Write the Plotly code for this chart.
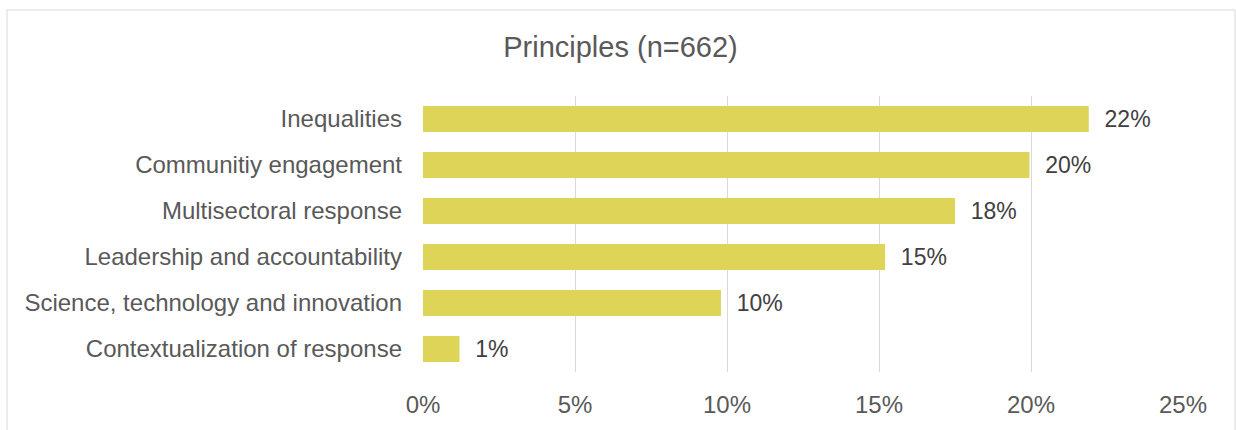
import plotly.graph_objects as go

# Share of responses mentioning each principle (n=662)
categories = [
    "Contextualization of response",
    "Science, technology and innovation",
    "Leadership and accountability",
    "Multisectoral response",
    "Communitiy engagement",
    "Inequalities",
]
shares = [0.012, 0.098, 0.152, 0.175, 0.1995, 0.219]
x_ticks = [0, 0.05, 0.10, 0.15, 0.20, 0.25]
x_tick_labels = ["0%", "5%", "10%", "15%", "20%", "25%"]
chart_title = "Principles (n=662)"

W, H = 1236, 430
ML, MR, MT, MB = 423, 53, 96, 55
plot_w = W - ML - MR
plot_h = H - MT - MB

FONT = "Arial, Liberation Sans, sans-serif"
BAR_COLOR = "#DDD458"
GRID = "#D9D9D9"

fig = go.Figure(
    go.Bar(
        x=shares,
        y=categories,
        orientation="h",
        marker=dict(color=BAR_COLOR, line=dict(width=0)),
        width=0.56,
        text=shares,
        texttemplate="\u00a0\u00a0%{x:.0%}",
        textposition="outside",
        textfont=dict(family=FONT, size=25, color="#404040"),
        cliponaxis=False,
        hoverinfo="skip",
    )
)

# light frame around the whole chart area (open at the bottom)
def px_to_paper_x(px):
    return (px - ML) / plot_w

def px_to_paper_y(py):
    return (H - MB - py) / plot_h

fig.add_shape(
    type="rect",
    xref="paper", yref="paper",
    x0=px_to_paper_x(7), x1=px_to_paper_x(1235),
    y0=px_to_paper_y(445), y1=px_to_paper_y(9),
    line=dict(color=GRID, width=1),
    fillcolor="rgba(0,0,0,0)",
    layer="below",
)

fig.update_layout(
    width=W, height=H,
    margin=dict(l=ML, r=MR, t=MT, b=MB),
    paper_bgcolor="white",
    plot_bgcolor="white",
    showlegend=False,
    title=dict(
        text=chart_title,
        x=620.5 / W, xref="container", xanchor="center",
        y=1 - 47 / H, yref="container", yanchor="middle",
        font=dict(family=FONT, size=29, color="#595959"),
    ),
    xaxis=dict(
        range=[0, 0.25],
        tickvals=x_ticks,
        ticktext=x_tick_labels,
        showgrid=True,
        gridcolor=GRID,
        gridwidth=1,
        zeroline=False,
        showline=False,
        ticks="",
        ticklabelstandoff=16,
        tickfont=dict(family=FONT, size=24, color="#595959"),
        fixedrange=True,
    ),
    yaxis=dict(
        showgrid=False,
        zeroline=False,
        showline=False,
        ticks="",
        ticklabelstandoff=20,
        tickfont=dict(family=FONT, size=24, color="#595959"),
        fixedrange=True,
    ),
    bargap=0.44,
)

fig.write_html("out.html", config={"displayModeBar": False})
